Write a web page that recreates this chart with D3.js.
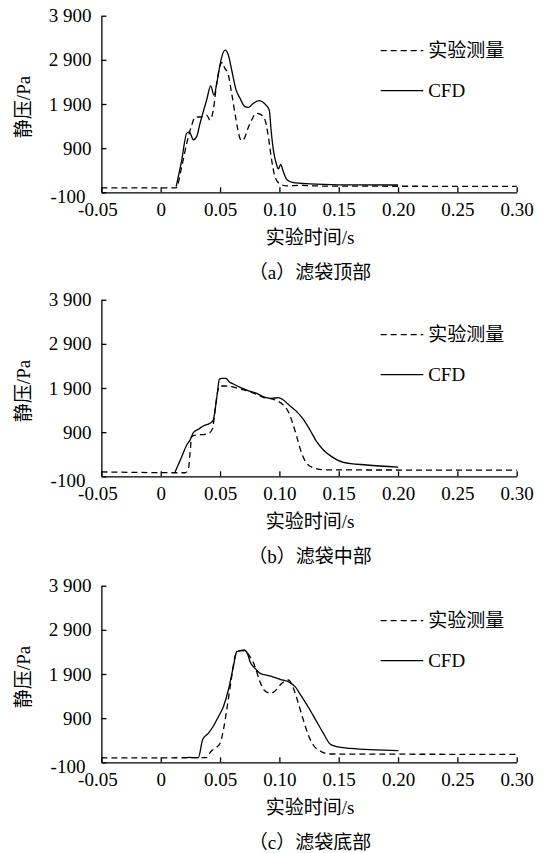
<!DOCTYPE html>
<html>
<head>
<meta charset="utf-8">
<script src="https://cdn.jsdelivr.net/npm/d3@7"></script>
<style>
    body { margin: 0; background: #fff; }
    svg { display: block; }
</style>
</head>
<body>
<div id="chart"></div>
<script>
// 坐标轴刻度
const xTicks = [-0.05, 0, 0.05, 0.10, 0.15, 0.20, 0.25, 0.30];
const xTickLabels = ["-0.05", "0", "0.05", "0.10", "0.15", "0.20", "0.25", "0.30"];
const yTicks = [-100, 900, 1900, 2900, 3900];
const yTickLabels = ["-100", "900", "1 900", "2 900", "3 900"];
const seriesNames = ["实验测量", "CFD"];
const panelCaptions = ["（a）滤袋顶部", "（b）滤袋中部", "（c）滤袋底部"];
const xTitle = "实验时间/s";
const yTitle = "静压/Pa";

// 滤袋顶部 [时间 s, 静压 Pa]
const topExp = [[-0.05, 0], [0.013, 0], [0.0177, 480], [0.0219, 1010], [0.0261, 1420], [0.0289, 1600],
    [0.0345, 1610], [0.0387, 1650], [0.0415, 1540], [0.0443, 1760], [0.0472, 2370], [0.0508, 2820],
    [0.0522, 2840], [0.0533, 2750], [0.057, 2560], [0.0598, 2140], [0.0635, 1540], [0.0668, 1120],
    [0.0685, 1070], [0.071, 1150], [0.073, 1310], [0.0767, 1540], [0.0803, 1690], [0.0837, 1670],
    [0.0879, 1540], [0.0907, 1160], [0.0935, 630], [0.0963, 250], [0.1005, 90], [0.1062, 45],
    [0.117, 55], [0.14, 40], [0.30, 35]];
const topCfd = [[0.013, 30], [0.0177, 630], [0.0219, 1240], [0.0241, 1270], [0.0275, 1090], [0.0303, 1160],
    [0.0331, 1460], [0.0359, 1730], [0.0387, 1990], [0.0421, 2310], [0.0449, 2100], [0.0477, 2440],
    [0.0508, 2900], [0.0542, 3120], [0.057, 3010], [0.0598, 2670], [0.0635, 2220], [0.0668, 2030],
    [0.071, 1840], [0.0739, 1825], [0.0781, 1915], [0.0831, 1975], [0.0879, 1900], [0.0915, 1760],
    [0.093, 1310], [0.0949, 860], [0.0977, 520], [0.0991, 430], [0.1011, 530], [0.1033, 370],
    [0.1062, 190], [0.1118, 120], [0.1258, 90], [0.15, 70], [0.20, 65]];

// 滤袋中部
const midExp = [[-0.05, 0], [0.0205, -20], [0.0233, 60], [0.0247, 420], [0.0261, 800], [0.0303, 835],
    [0.0373, 850], [0.0415, 890], [0.0437, 990], [0.0458, 1400], [0.0477, 1780], [0.05, 1945],
    [0.0542, 1945], [0.0598, 1930], [0.0669, 1877], [0.0752, 1817], [0.0865, 1690], [0.0963, 1630],
    [0.1033, 1515], [0.1075, 1364], [0.1112, 1100], [0.1146, 800], [0.1188, 420], [0.123, 195],
    [0.1286, 95], [0.1399, 45], [0.30, 40]];
const midCfd = [[0.0121, 0], [0.0177, 345], [0.0219, 610], [0.0247, 720], [0.0275, 890], [0.0317, 965],
    [0.0359, 1040], [0.0415, 1100], [0.0443, 1175], [0.0458, 1400], [0.0477, 1780], [0.0494, 2096],
    [0.0514, 2120], [0.055, 2120], [0.0576, 2043], [0.0612, 1990], [0.0669, 1915], [0.0724, 1854],
    [0.0809, 1779], [0.0879, 1688], [0.0935, 1666], [0.0991, 1681], [0.1033, 1628], [0.109, 1492],
    [0.1146, 1364], [0.1202, 1190], [0.1258, 949], [0.1314, 684], [0.1371, 496], [0.1441, 345],
    [0.1539, 216], [0.1736, 156], [0.2002, 110]];

// 滤袋底部
const botExp = [[-0.05, 0], [0.0387, 5], [0.0421, 140], [0.0466, 230], [0.05, 330], [0.0528, 630],
    [0.0556, 1085], [0.059, 1690], [0.0626, 2290], [0.0654, 2420], [0.0682, 2430], [0.071, 2420],
    [0.0753, 2290], [0.0795, 2066], [0.0831, 1764], [0.087, 1538], [0.0927, 1462], [0.0972, 1538],
    [0.102, 1689], [0.1076, 1764], [0.1118, 1575], [0.116, 1236], [0.1202, 858], [0.1244, 518],
    [0.1286, 292], [0.1343, 156], [0.1427, 88], [0.30, 80]];
const botCfd = [[0.022, 10], [0.0317, 5], [0.0354, 420], [0.0401, 556], [0.0444, 722], [0.0486, 933],
    [0.0528, 1160], [0.057, 1538], [0.0612, 2066], [0.064, 2406], [0.0668, 2428], [0.0702, 2444],
    [0.073, 2368], [0.0753, 2180], [0.0795, 2028], [0.0837, 1915], [0.0921, 1855], [0.1006, 1779],
    [0.109, 1704], [0.1132, 1613], [0.1188, 1387], [0.1258, 1085], [0.1314, 820], [0.1371, 556],
    [0.1427, 314], [0.1483, 254], [0.1595, 216], [0.2003, 164]];

const panels = [[topExp, topCfd], [midExp, midCfd], [botExp, botCfd]];

const width = 544, height = 853;
const left = 101.4, plotW = 415.3, plotH = 176.6;
// 每个子图x轴所在的y位置
const axisY = [192.3, 476.3, 762.3];
const fontSize = 19;
const fontFamily = '"Liberation Serif", "DejaVu Serif", "Noto Sans CJK SC"';

const svg = d3.select("#chart").append("svg")
    .attr("width", width).attr("height", height);

const x = d3.scaleLinear().domain([-0.05, 0.30]).range([0, plotW]);
const y = d3.scaleLinear().domain([-100, 3900]).range([plotH, 0]);

const line = d3.line()
    .x(d => x(d[0]))
    .y(d => y(d[1]))
    .curve(d3.curveMonotoneX);

panels.forEach((series, i) => {
    const top = axisY[i] - plotH;
    const g = svg.append("g").attr("transform", `translate(${left},${top})`);

    // x 轴，刻度朝内
    const xAxis = g.append("g")
        .attr("transform", `translate(0,${plotH})`)
        .call(d3.axisBottom(x).tickValues(xTicks).tickSize(-5).tickSizeOuter(0).tickPadding(10)
            .tickFormat((d, k) => xTickLabels[k]));
    // y 轴
    const yAxis = g.append("g")
        .call(d3.axisLeft(y).tickValues(yTicks).tickSize(-5).tickSizeOuter(0).tickPadding(10)
            .tickFormat((d, k) => yTickLabels[k]));

    [xAxis, yAxis].forEach(ax => {
        ax.attr("font-size", fontSize).attr("font-family", null);
        ax.selectAll("path, line").attr("stroke", "#000").attr("stroke-width", 1.3);
    });
    // -0.05 和 -100 的标签稍微错开
    xAxis.selectAll(".tick text").filter((d, k) => k === 0).attr("dx", "-4");
    yAxis.selectAll(".tick text").filter((d, k) => k === 0).attr("dx", "-6").attr("dy", "0.55em");

    // 曲线
    g.append("path").datum(series[0])
        .attr("fill", "none").attr("stroke", "#000").attr("stroke-width", 1.3)
        .attr("stroke-dasharray", "6,4")
        .attr("d", line);
    g.append("path").datum(series[1])
        .attr("fill", "none").attr("stroke", "#000").attr("stroke-width", 1.3)
        .attr("d", line);

    // 图例
    const legend = g.append("g").attr("transform", `translate(${380.7 - left},0)`);
    [35, 75].forEach((ly, k) => {
        legend.append("line")
            .attr("x1", 0).attr("x2", 42.6).attr("y1", ly).attr("y2", ly)
            .attr("stroke", "#000").attr("stroke-width", 1.3)
            .attr("stroke-dasharray", k === 0 ? "6,4" : null);
        legend.append("text")
            .attr("x", 47.5).attr("y", ly).attr("dy", "0.35em")
            .attr("font-size", fontSize)
            .text(seriesNames[k]);
    });

    // 坐标轴标题
    g.append("text")
        .attr("transform", `translate(${23 - left},${plotH / 2 + 3}) rotate(-90)`)
        .attr("text-anchor", "middle").attr("dy", "0.35em")
        .attr("font-size", fontSize)
        .text(yTitle);
    g.append("text")
        .attr("x", 310 - left).attr("y", plotH + 45).attr("dy", "0.35em")
        .attr("text-anchor", "middle").attr("font-size", fontSize)
        .text(xTitle);
    g.append("text")
        .attr("x", 310 - left).attr("y", plotH + 80).attr("dy", "0.35em")
        .attr("text-anchor", "middle").attr("font-size", fontSize)
        .text(panelCaptions[i]);
});

svg.selectAll("text").style("font-family", fontFamily).attr("fill", "#000");
</script>
</body>
</html>
